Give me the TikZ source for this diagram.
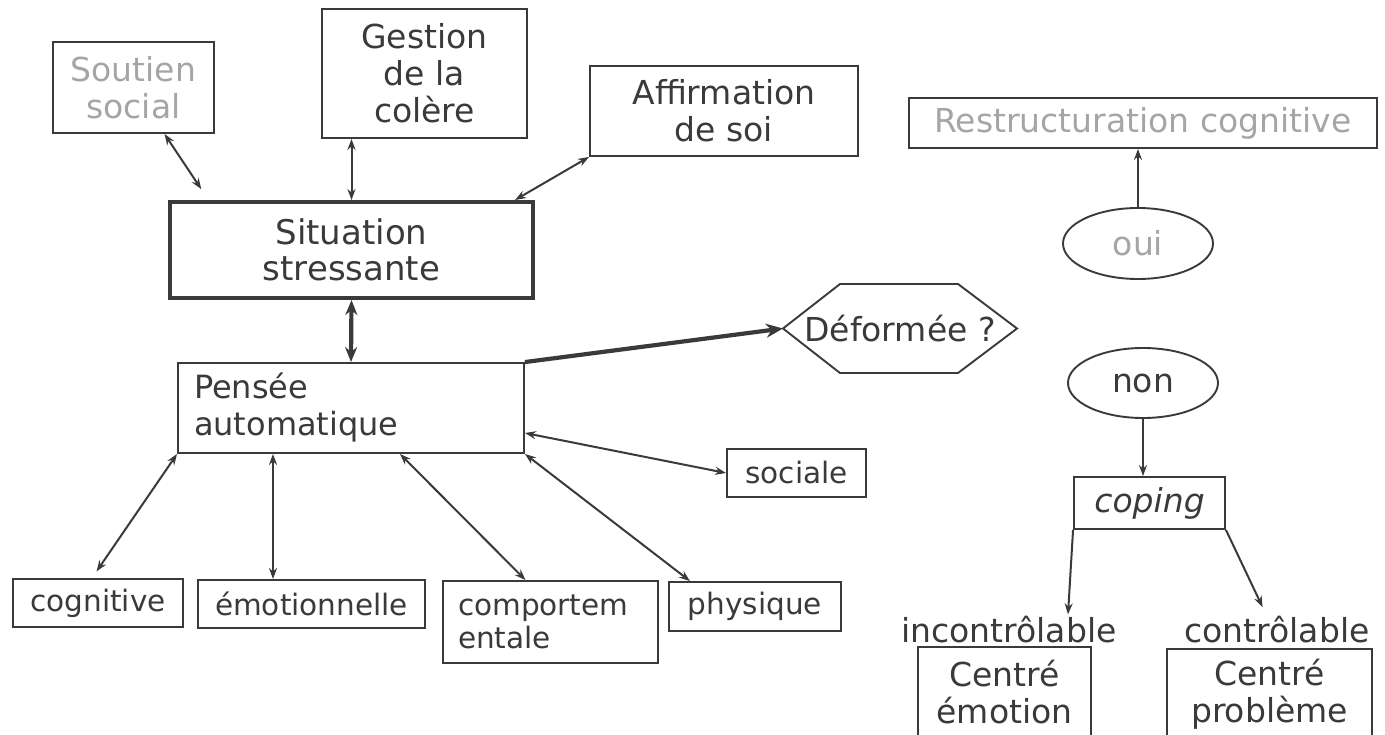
\documentclass[tikz,border=0pt]{standalone}
\usepackage{fontspec}
\setmainfont{DejaVu Sans}
\usepackage{tikz}
\usetikzlibrary{positioning,arrows.meta,shapes.geometric}

\definecolor{ink}{HTML}{3A3A3A}
\definecolor{pale}{HTML}{A5A5A5}

\begin{document}
\begin{tikzpicture}[
  x=1pt, y=-1pt,
  box/.style={draw=ink, line width=1.9pt, text=ink, inner sep=0pt, align=center,
              font=\fontsize{33}{37}\selectfont},
  small/.style={box, font=\fontsize{29.5}{33}\selectfont},
  oval/.style={box, ellipse},
  dbl/.style={{Stealth[length=11pt,width=8pt]}-{Stealth[length=11pt,width=8pt]}, line width=2pt, draw=ink},
  sgl/.style={-{Stealth[length=11pt,width=8pt]}, line width=2pt, draw=ink},
  heavy/.style={line width=4.2pt, draw=ink}
]
  \useasboundingbox (0,0) rectangle (1385,735);

  % left part
  \node[box, text=pale, minimum width=161pt, minimum height=91pt] (soutien) at (133.5,87.5) {Soutien\\social};
  \node[box, minimum width=205pt, minimum height=129pt] (gestion) at (424.5,73.5) {Gestion\\de la\\colère};
  \node[box, minimum width=268pt, minimum height=90pt] (affirm) at (724,111) {Affirmation\\de soi};
  \node[box, line width=4pt, font=\fontsize{34}{36}\selectfont, minimum width=363pt, minimum height=96pt] (situation) at (351.5,250) {Situation\\stressante};
  \node[box, font=\fontsize{32}{37}\selectfont, minimum width=346pt, minimum height=90pt,
        text width=314pt, align=left] (pensee) at (351,408) {Pensée\\automatique};
  \node[text=ink, inner sep=0pt, outer sep=0pt, minimum width=234pt, minimum height=89pt,
        font=\fontsize{33}{37}\selectfont] (deform) at (900,328.5) {Déformée ?};
  \draw[ink, line width=1.9pt] (deform.west) -- ([xshift=57pt]deform.north west)
    -- ([xshift=-59pt]deform.north east) -- (deform.east)
    -- ([xshift=-59pt]deform.south east) -- ([xshift=57pt]deform.south west) -- cycle;

  \node[small, minimum width=139pt, minimum height=48pt] (sociale) at (796.5,473) {sociale};
  \node[small, minimum width=170pt, minimum height=48pt] (cognitive) at (98,603) {cognitive};
  \node[small, minimum width=227pt, minimum height=48pt] (emotion) at (311.5,604) {émotionnelle};
  \node[small, minimum width=215pt, minimum height=82pt, text width=185pt, align=left] (comport) at (550.5,622) {comportem\\entale};
  \node[small, minimum width=172pt, minimum height=49pt] (physique) at (755,606.5) {physique};

  % right part
  \node[box, text=pale, minimum width=468pt, minimum height=50pt] (restr) at (1143,123) {Restructuration cognitive};
  \node[oval, text=pale, minimum width=150pt, minimum height=71pt] (oui) at (1138,243.5) {oui};
  \node[oval, minimum width=150pt, minimum height=70pt] (non) at (1143,383) {non};
  \node[box, font=\fontsize{33}{37}\selectfont\itshape, minimum width=151pt, minimum height=52pt] (coping) at (1149.5,503) {coping};
  \node[text=ink, inner sep=2pt, font=\fontsize{33}{37}\selectfont] (lblinc) at (1009,630) {incontrôlable};
  \node[text=ink, inner sep=2pt, font=\fontsize{33}{37}\selectfont] (lblctrl) at (1277,630) {contrôlable};
  \node[box, minimum width=173pt, minimum height=90pt] (centreemo) at (1004.5,692) {Centré\\émotion};
  \node[box, minimum width=205pt, minimum height=90pt] (centreprob) at (1269.5,694) {Centré\\problème};

  % connectors
  \draw[dbl, shorten >=13pt] ([xshift=31pt]soutien.south) -- ([xshift=-143pt]situation.north);
  \draw[dbl] (situation.north) -- (situation.north |- gestion.south);
  \draw[dbl] (affirm.south west) -- ([xshift=-20pt]situation.north east);
  \draw[heavy, {Stealth[length=15pt,width=12pt]}-{Stealth[length=15pt,width=12pt]}] (situation.south) -- (pensee.north);
  \draw[heavy, -{Stealth[length=17pt,width=14pt]}] (pensee.north east) -- (deform.west);
  \draw[dbl] ([yshift=-25pt]pensee.east) -- (sociale.west);
  \draw[dbl, shorten >=8pt] (pensee.south west) -- ([xshift=-6pt]cognitive.north);
  \coordinate (pe) at ([xshift=-78pt]pensee.south);
  \draw[dbl] (pe) -- (pe |- emotion.north);
  \draw[dbl] ([xshift=49pt]pensee.south) -- ([xshift=-25pt]comport.north);
  \draw[dbl] (pensee.south east) -- ([xshift=-65pt]physique.north);

  \draw[sgl] (oui.north) -- (oui.north |- restr.south);
  \draw[sgl] (non.south) -- (non.south |- coping.north);
  \draw[sgl] (coping.south west) -- ([xshift=59pt]lblinc.north);
  \draw[sgl, shorten >=8pt] (coping.south east) -- ([xshift=-11pt]lblctrl.north);
\end{tikzpicture}
\end{document}
